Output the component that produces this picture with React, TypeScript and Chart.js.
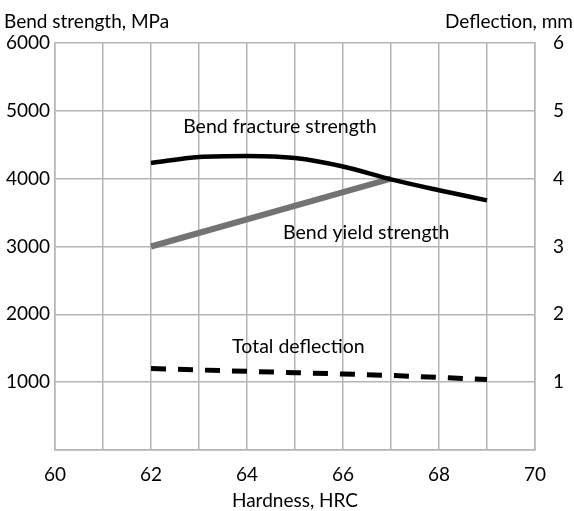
import React, { useEffect, useRef } from "react";
import { Chart, registerables } from "chart.js";

Chart.register(...registerables);

const hardness = [62, 63, 64, 65, 66, 67, 68, 69];
const fractureStrength = [4230, 4320, 4335, 4305, 4180, 3990, 3830, 3680];
const yieldHardness = [62, 67];
const yieldStrength = [3000, 4000];
const totalDeflection = [1.2, 1.18, 1.16, 1.14, 1.12, 1.1, 1.07, 1.04];

const leftTitle = "Bend strength, MPa";
const rightTitle = "Deflection, mm";
const xTitle = "Hardness, HRC";

const labelFracture = "Bend fracture strength";
const labelYield = "Bend yield strength";
const labelDeflection = "Total deflection";

const FONT = "Lato, 'Open Sans', sans-serif";

export default function App() {
  const ref = useRef<HTMLCanvasElement | null>(null);

  useEffect(() => {
    document.body.style.margin = "0";
    const canvas = ref.current!;
    const titles = {
      id: "titles",
      afterDraw(chart: any) {
        const ctx = chart.ctx;
        const x = chart.scales.x;
        const yl = chart.scales.y;
        const yr = chart.scales.y2;
        ctx.save();
        ctx.fillStyle = "#000";
        ctx.font = `19px ${FONT}`;
        ctx.textBaseline = "middle";
        ctx.textAlign = "left";
        ctx.fillText(leftTitle, 4, 22);
        ctx.textAlign = "right";
        ctx.fillText(rightTitle, 573, 22);
        ctx.textAlign = "center";
        ctx.fillText(xTitle, (chart.chartArea.left + chart.chartArea.right) / 2, 501);
        ctx.font = `19.5px ${FONT}`;
        ctx.textAlign = "left";
        ctx.fillText(labelFracture, x.getPixelForValue(62.67), yl.getPixelForValue(4760));
        ctx.fillText(labelYield, x.getPixelForValue(64.75), yl.getPixelForValue(3210));
        ctx.fillText(labelDeflection, x.getPixelForValue(63.69), yr.getPixelForValue(1.52));
        ctx.restore();
      },
    };

    const chart = new Chart(canvas, {
      type: "line",
      data: {
        datasets: [
          {
            label: labelFracture,
            data: hardness.map((h, i) => ({ x: h, y: fractureStrength[i] })),
            borderColor: "#000",
            borderWidth: 4.5,
            pointRadius: 0,
            cubicInterpolationMode: "monotone",
            yAxisID: "y",
          },
          {
            label: labelYield,
            data: yieldHardness.map((h, i) => ({ x: h, y: yieldStrength[i] })),
            borderColor: "#737373",
            borderWidth: 6,
            pointRadius: 0,
            borderCapStyle: "butt",
            yAxisID: "y",
          },
          {
            label: labelDeflection,
            data: hardness.map((h, i) => ({ x: h, y: totalDeflection[i] })),
            borderColor: "#000",
            borderWidth: 5,
            borderDash: [15, 12],
            pointRadius: 0,
            yAxisID: "y2",
          },
        ],
      },
      options: {
        animation: false,
        responsive: false,
        maintainAspectRatio: false,
        layout: { padding: { top: 43, left: 0, right: 0, bottom: 0 } },
        plugins: { legend: { display: false }, tooltip: { enabled: false } },
        scales: {
          x: {
            type: "linear",
            min: 60,
            max: 70,
            afterFit(s: any) {
              s.height = 61;
            },
            ticks: {
              stepSize: 1,
              padding: 13,
              color: "#000",
              font: { family: FONT, size: 19 },
              callback: (v: any) => (Number(v) % 2 === 0 ? String(v) : ""),
              maxRotation: 0,
              autoSkip: false,
            },
            grid: { color: "#b5b5b5", lineWidth: 1.5, drawTicks: false },
            border: { color: "#b5b5b5", width: 1.5 },
          },
          y: {
            position: "left",
            min: 0,
            max: 6000,
            afterFit(s: any) {
              s.width = 55;
            },
            ticks: {
              stepSize: 1000,
              padding: 5,
              color: "#000",
              font: { family: FONT, size: 19 },
              callback: (v: any) => (Number(v) === 0 ? "" : String(v)),
            },
            grid: { color: "#b5b5b5", lineWidth: 1.5, drawTicks: false },
            border: { color: "#b5b5b5", width: 1.5 },
          },
          y2: {
            position: "right",
            min: 0,
            max: 6,
            afterFit(s: any) {
              s.width = 39;
            },
            ticks: {
              stepSize: 1,
              padding: 18,
              color: "#000",
              font: { family: FONT, size: 19 },
              callback: (v: any) => (Number(v) === 0 ? "" : String(v)),
            },
            grid: { drawOnChartArea: false, drawTicks: false },
            border: { color: "#b5b5b5", width: 1.5 },
          },
        },
      },
      plugins: [titles],
    } as any);
    return () => chart.destroy();
  }, []);

  return (
    <div style={{ position: "absolute", left: 0, top: 0, width: 574, height: 511 }}>
      <canvas ref={ref} width={574} height={511} style={{ width: 574, height: 511 }} />
    </div>
  );
}
